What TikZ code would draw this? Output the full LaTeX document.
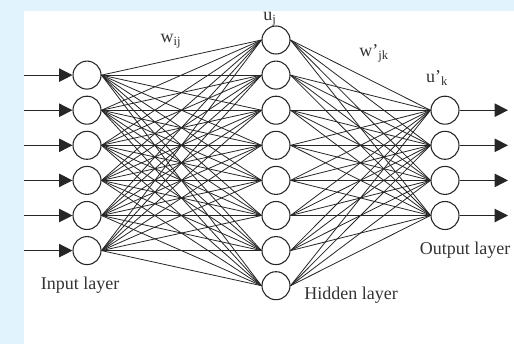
\documentclass[tikz,border=0pt]{standalone}
\usepackage{fontspec}
\setmainfont{Liberation Serif}
\usepackage{xcolor}
\definecolor{colorBack}{RGB}{225,243,253}
\colorlet{colorLine}{black!85}
\colorlet{colorText}{black!80}
\usetikzlibrary{arrows.meta, positioning}
\tikzset{neuron/.style={circle, draw=colorLine, line width=0.8pt, fill=white, minimum size=21pt, inner sep=0pt}}
\tikzset{link/.style={colorLine, line width=0.6pt}}
\tikzset{signal/.style={-{Triangle[length=10pt,width=10pt]}, colorLine, line width=0.8pt}}
\tikzset{caption/.style={text=colorText, font=\fontsize{13.5}{16}\selectfont, inner sep=0pt}}

\begin{document}
\begin{tikzpicture}[x=0.75pt, y=-0.75pt]
\fill[colorBack] (0,0) rectangle (514,344);
\fill[white] (24,11) rectangle (514,344);
\useasboundingbox (0,0) rectangle (514,344);
\foreach \i in {1,...,6} \node[neuron] (in\i) at (87,{40+35.1*\i}) {};
\foreach \j in {1,...,8} \node[neuron] (hid\j) at (276,{40+35.1*(\j-1)}) {};
\foreach \k in {1,...,4} \node[neuron] (out\k) at (445,{40+35.1*(\k+1)}) {};
\foreach \i in {1,...,6} \coordinate (src\i) at (24,{40+35.1*\i});
\foreach \k in {1,...,4} \coordinate (dst\k) at (508,{40+35.1*(\k+1)});
\foreach \i in {1,...,6} \draw[signal] (src\i) -- (in\i.west);
\foreach \k in {1,...,4} \draw[signal] (out\k.east) -- (dst\k);
\foreach \i in {1,...,6} \foreach \j in {1,...,8} \draw[link] (in\i.east) -- (hid\j.west);
\foreach \j in {1,...,8} \foreach \k in {1,...,4} \draw[link] (hid\j.east) -- (out\k.west);
\node[caption] (wij) at (171,41) {w\textsubscript{ij}};
\node[caption] (uj) at (270,19) {u\textsubscript{j}};
\node[caption] (wjk) at (374,53) {w’\textsubscript{jk}};
\node[caption] (uk) at (437,78) {u’\textsubscript{k}};
\node[caption] (inlabel) at (80,285) {Input layer};
\node[caption] (hidlabel) at (351,295) {Hidden layer};
\node[caption] (outlabel) at (465,250) {Output layer};
\end{tikzpicture}
\end{document}
